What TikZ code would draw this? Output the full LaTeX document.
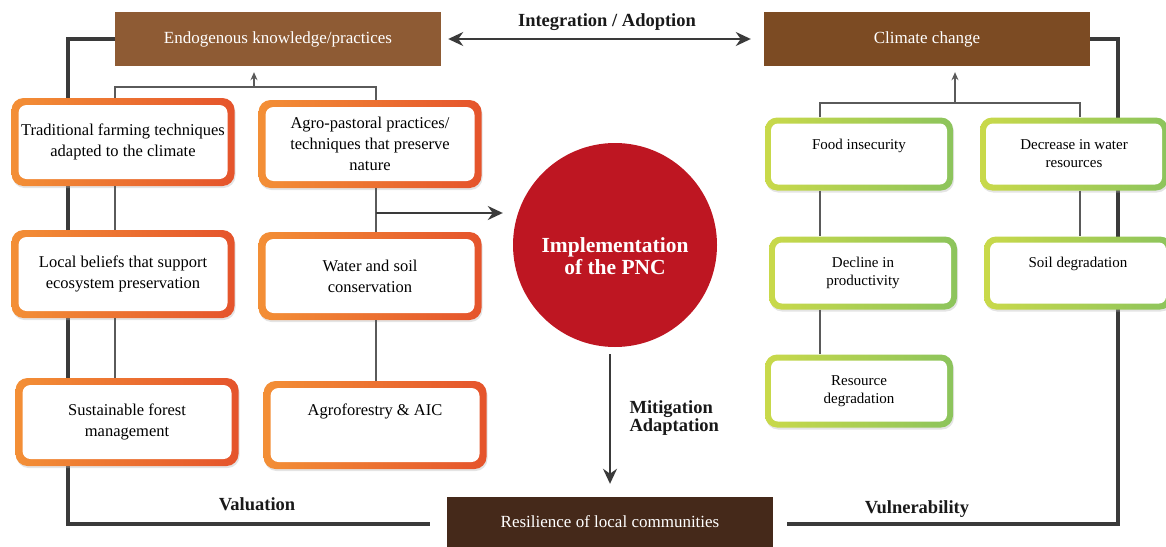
\documentclass[tikz,border=0pt]{standalone}
\usepackage{fontspec}
\setmainfont{Liberation Serif}
\usetikzlibrary{arrows.meta,shadows}

\definecolor{endobrown}{HTML}{8E5B34}
\definecolor{climbrown}{HTML}{7C4B23}
\definecolor{resbrown}{HTML}{45291A}
\definecolor{pncred}{HTML}{BE1622}
\definecolor{orangeL}{HTML}{F38F36}
\definecolor{orangeR}{HTML}{E5542C}
\definecolor{greenL}{HTML}{C9D94A}
\definecolor{greenR}{HTML}{8CC45C}
\definecolor{framegray}{HTML}{3A3A3A}
\definecolor{linkgray}{HTML}{5A5A5A}

\tikzset{
    headbox/.style={minimum width=326pt, minimum height=54pt, inner sep=0pt,
        text=white, font=\fontsize{17}{20}\selectfont},
    obox/.style={rounded corners=12pt, minimum width=223pt, minimum height=88pt,
        inner sep=1pt, align=center, left color=orangeL, right color=orangeR,
        font=\fontsize{16.5}{21}\selectfont,
        drop shadow={fill=black!30, opacity=.35, shadow xshift=1pt, shadow yshift=-2pt},
        path picture={\fill[white, rounded corners=8pt]
            ([shift={(7pt,7pt)}]path picture bounding box.south west) rectangle
            ([shift={(-7pt,-7pt)}]path picture bounding box.north east);}},
    gbox/.style={obox, minimum width=188pt, minimum height=73pt,
        left color=greenL, right color=greenR,
        font=\fontsize{15}{18}\selectfont,
        path picture={\fill[white, rounded corners=7pt]
            ([shift={(6pt,6pt)}]path picture bounding box.south west) rectangle
            ([shift={(-6pt,-6pt)}]path picture bounding box.north east);}},
    textup/.style={text depth=#1},
    frame/.style={draw=framegray, line width=4pt},
    link/.style={draw=linkgray, line width=1.2pt},
    flow/.style={draw=framegray, line width=2pt, -{Stealth[length=15pt, width=14pt]}},
    boldlbl/.style={font=\bfseries\fontsize{18.5}{16}\selectfont, text=black!90}
}

\begin{document}
\begin{tikzpicture}[x=1pt, y=-1pt]
    \useasboundingbox (0,0) rectangle (1166,546);

    \node[headbox, fill=endobrown] (endo) at (278,39) {Endogenous knowledge/practices};
    \node[headbox, fill=climbrown] (clim) at (927,39) {Climate change};

    % outer loop, running behind the boxes
    \coordinate (vl) at (68,524);
    \coordinate (vle) at (430,524);
    \coordinate (vr) at (1118,524);
    \coordinate (vre) at (787,524);
    \draw[frame] (endo.west) -| (vl) -- (vle);
    \draw[frame] (clim.east) -| (vr) -- (vre);

    \draw[flow, {Stealth[length=15pt, width=14pt]}-{Stealth[length=15pt, width=14pt]},
        shorten <=7pt, shorten >=13pt] (endo.east) -- (clim.west);
    \node[boldlbl] (integ) at (607,22) {Integration / Adoption};

    \node[obox] (trad) at (123,142) {Traditional farming techniques\\adapted to the climate};
    \node[obox] (agro) at (370,144) {Agro-pastoral practices/\\techniques that preserve\\nature};
    \node[obox] (beliefs) at (123,274) {Local beliefs that support\\ecosystem preservation};
    \node[obox] (water) at (370,276) {Water and soil\\conservation};
    \node[obox] (forest) at (127,422) {Sustainable forest\\management};
    \node[obox, textup=30pt] (agrof) at (375,425) {Agroforestry \& AIC};

    \coordinate (lb) at (115,87);
    \coordinate (rb) at (376,87);
    \coordinate (lm) at (254,87);
    \coordinate (tap) at (376,213);
    \draw[link] (trad.north -| lb) -- (lb) -- (rb) -- (agro.north -| rb);
    \draw[link, -{Stealth[length=8pt, width=7pt]}, shorten >=6pt] (lm) -- (endo.south -| lm);
    \draw[link] (trad.south -| lb) -- (beliefs.north -| lb);
    \draw[link] (beliefs.south -| lb) -- (forest.north -| lb);
    \draw[link] (agro.south -| rb) -- (water.north -| rb);
    \draw[link] (water.south -| rb) -- (agrof.north -| rb);

    \node[circle, fill=pncred, minimum size=204pt] (pnc) at (615,245) {};
    \node[font=\bfseries\fontsize{21.5}{22}\selectfont, text=white, align=center]
        (pnclbl) at ([yshift=-11pt]pnc.center) {Implementation\\of the PNC};
    \draw[flow, shorten >=10pt] (tap) -- (tap -| pnc.west);

    \node[gbox, textup=19pt] (food) at (859,154) {Food insecurity};
    \node[gbox] (decrease) at (1074,154) {Decrease in water\\resources};
    \node[gbox] (decline) at (863,273) {Decline in\\productivity};
    \node[gbox, textup=21pt] (soil) at (1078,273) {Soil degradation};
    \node[gbox] (resource) at (859,391) {Resource\\degradation};

    \coordinate (gl) at (820,103);
    \coordinate (gr) at (1080,103);
    \coordinate (gm) at (955,103);
    \draw[link] (food.north -| gl) -- (gl) -- (gr) -- (decrease.north -| gr);
    \draw[link, -{Stealth[length=8pt, width=7pt]}, shorten >=6pt] (gm) -- (clim.south -| gm);
    \draw[link] (food.south -| gl) -- (decline.north -| gl);
    \draw[link] (decline.south -| gl) -- (resource.north -| gl);
    \draw[link] (decrease.south -| gr) -- (soil.north -| gr);

    \node[headbox, fill=resbrown, minimum height=50pt] (res) at (610,522) {Resilience of local communities};
    \draw[flow, shorten <=7pt, shorten >=13pt] (pnc.south -| res.north) -- (res.north);
    \node[boldlbl, anchor=west, align=left] (mitlbl) at (626,418) {Mitigation\\Adaptation};

    \node[boldlbl] (valu) at (257,504) {Valuation};
    \node[boldlbl] (vuln) at (917,509) {Vulnerability};
\end{tikzpicture}
\end{document}
